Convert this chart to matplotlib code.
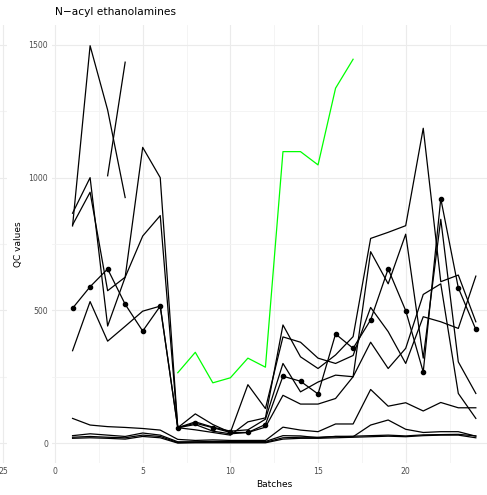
import numpy as np
import matplotlib
matplotlib.use("Agg")
import matplotlib.pyplot as plt

nan = np.nan
batches = np.arange(1, 25)

# QC series
s_tall = [818, 1497, 1255, 925] + [nan] * 20
s_short = [nan, nan, 1007, 1435] + [nan] * 20
s_c = [866, 1000, 441, 625, 1114, 1000, 58, 50, 40, 30, 80, 95, 445, 325, 281, 332, 401, 771, 794, 819, 1186, 608, 633, 457]
s_d = [822, 945, 574, 625, 780, 857, 58, 80, 60, 45, 50, 90, 300, 193, 230, 256, 250, 721, 600, 787, 320, 843, 306, 187]
s_e = [348, 533, 384, 440, 497, 516, 58, 110, 70, 40, 220, 130, 400, 380, 320, 300, 330, 511, 420, 300, 476, 457, 432, 629]
s_f = [nan] * 6 + [58, 70, 45, 35, 40, 60, 180, 147, 147, 168, 250, 380, 281, 357, 560, 600, 187, 93]
s_dot = [508, 589, 656, 523, 422, 516, 58, 75, 58, 40, 40, 70, 252, 233, 185, 411, 357, 464, 656, 499, 268, 921, 585, 428]
s_g = [93, 68, 62, 59, 55, 49, 14, 10, 12, 10, 10, 10, 60, 49, 43, 72, 72, 202, 139, 152, 121, 153, 133, 133]
s_h = [28, 35, 30, 25, 38, 30, 5, 5, 6, 6, 6, 6, 28, 27, 20, 25, 24, 68, 87, 52, 40, 43, 43, 26]
s_i = [22, 25, 22, 20, 30, 25, 2, 3, 3, 3, 3, 3, 20, 22, 22, 25, 26, 28, 30, 27, 31, 32, 33, 27]
s_j = [18, 20, 18, 15, 25, 20, 0, 1, 1, 1, 1, 1, 15, 18, 18, 20, 22, 24, 26, 24, 28, 30, 30, 20]
s_green = [nan] * 6 + [265, 342, 227, 246, 320, 286, 1098, 1098, 1048, 1337, 1446] + [nan] * 7

black_series = [s_tall, s_short, s_c, s_d, s_e, s_f, s_g, s_h, s_i, s_j]

title = "N\u2212acyl ethanolamines"
xlabel = "Batches"
ylabel = "QC values"
xticks = [0, 5, 10, 15, 20]
yticks = [0, 500, 1000, 1500]

W, H = 487, 495
fig = plt.figure(figsize=(W / 100, H / 100), dpi=100)
grid_major = "#EBEBEB"
grid_minor = "#F3F3F3"
tick_col = "#4D4D4D"

# neighbouring panel fragment on far left
axl = fig.add_axes([0, (H - 463) / H, 7 / W, 438 / H])
axl.set_xlim(0, 7)
axl.set_ylim(-75, 1575)
for sp in axl.spines.values():
    sp.set_visible(False)
axl.set_xticks([3])
axl.set_xticklabels(["25"])
axl.set_yticks([])
for yv in [0, 250, 500, 750, 1000, 1250, 1500]:
    axl.axhline(yv, color=grid_major if yv % 500 == 0 else grid_minor, lw=0.8, zorder=0)
axl.axvline(3, color=grid_major, lw=0.8, zorder=0)
axl.tick_params(axis="x", length=0, labelsize=5.6, colors=tick_col, pad=3)
axl.patch.set_alpha(0)

left = 52.4 / W
right = 496.0 / W
ax = fig.add_axes([left, (H - 463) / H, right - left, 438 / H])
ax.set_xlim(-0.15, 25.15)
ax.set_ylim(-75, 1575)
for sp in ax.spines.values():
    sp.set_visible(False)
ax.set_xticks(xticks)
ax.set_yticks(yticks)
ax.set_xticks([2.5, 7.5, 12.5, 17.5, 22.5], minor=True)
ax.set_yticks([250, 750, 1250], minor=True)
ax.grid(True, which="major", color=grid_major, lw=0.8)
ax.grid(True, which="minor", color=grid_minor, lw=0.6)
ax.set_axisbelow(True)
ax.tick_params(which="both", length=0, labelsize=5.6, colors=tick_col, pad=3)

for s in black_series:
    ax.plot(batches, s, color="black", lw=0.9, zorder=3)
ax.plot(batches, s_dot, color="black", lw=0.9, zorder=3)
ax.scatter(batches, s_dot, color="black", s=9, zorder=4)
ax.plot(batches, s_green, color="#00FF00", lw=0.9, zorder=3)

ax.set_xlabel(xlabel, fontsize=6.5, labelpad=3)
ax.set_ylabel(ylabel, fontsize=6.5, labelpad=4)
fig.text(55 / W, 1 - 12 / H, title, fontsize=7.7, ha="left", va="center")

fig.savefig("out.png", dpi=100)
